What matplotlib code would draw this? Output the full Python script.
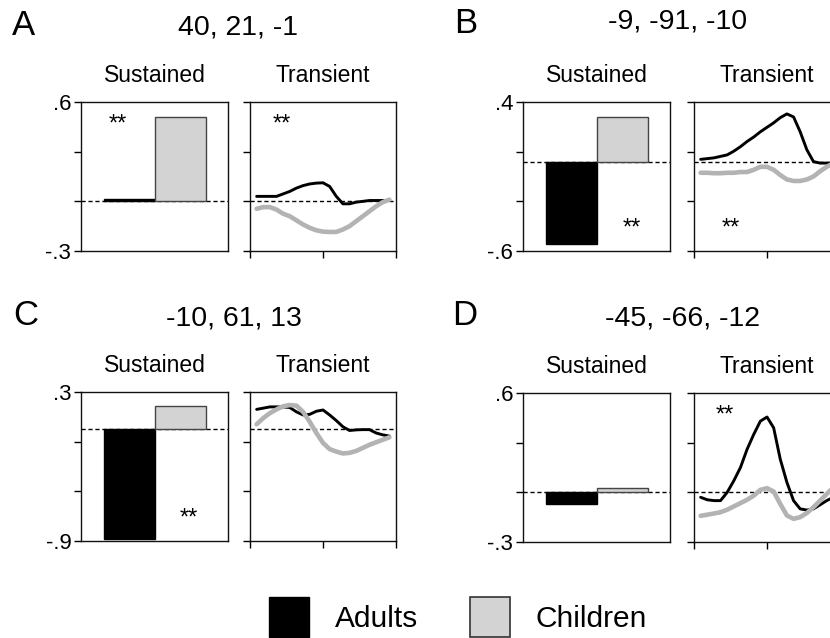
import matplotlib
matplotlib.use('Agg')
import matplotlib.pyplot as plt
from matplotlib.patches import Patch

plt.rcParams['font.family'] = ['Liberation Sans', 'DejaVu Sans']

# ---------------- data ----------------
panel_letters = ['A', 'B', 'C', 'D']
coords = ['40, 21, -1', '-9, -91, -10', '-10, 61, 13', '-45, -66, -12']
y_limits = [(-0.3, 0.6), (-0.6, 0.4), (-0.9, 0.3), (-0.3, 0.6)]
y_tick_labels = [('-.3', '.6'), ('-.6', '.4'), ('-.9', '.3'), ('-.3', '.6')]
groups = ['Adults', 'Children']
sustained_adults = [0.015, -0.55, -0.88, -0.07]
sustained_children = [0.51, 0.30, 0.19, 0.025]
time = list(range(21))

transient_adults_A = [0.03, 0.03, 0.03, 0.03, 0.045, 0.06, 0.08, 0.095, 0.105, 0.11,
                      0.112, 0.09, 0.03, -0.015, -0.015, -0.005, 0.0, 0.005, 0.005, 0.005, 0.005]
transient_children_A = [-0.045, -0.035, -0.035, -0.05, -0.075, -0.09, -0.115, -0.14, -0.16, -0.175,
                        -0.183, -0.185, -0.185, -0.17, -0.15, -0.12, -0.09, -0.06, -0.03, -0.005, 0.01]
transient_adults_B = [0.015, 0.02, 0.025, 0.035, 0.045, 0.07, 0.1, 0.135, 0.165, 0.2,
                      0.23, 0.26, 0.295, 0.32, 0.3, 0.2, 0.08, 0.0, -0.01, -0.01, -0.01]
transient_children_B = [-0.075, -0.075, -0.078, -0.078, -0.075, -0.075, -0.07, -0.07, -0.055, -0.035,
                        -0.035, -0.055, -0.09, -0.12, -0.13, -0.13, -0.12, -0.1, -0.065, -0.035, -0.01]
transient_adults_C = [0.16, 0.17, 0.18, 0.18, 0.18, 0.175, 0.14, 0.115, 0.12, 0.145,
                      0.155, 0.115, 0.07, 0.02, -0.01, -0.005, -0.003, -0.003, -0.03, -0.045, -0.055]
transient_children_C = [0.04, 0.09, 0.13, 0.16, 0.185, 0.195, 0.19, 0.14, 0.06, -0.03,
                        -0.11, -0.16, -0.18, -0.195, -0.19, -0.175, -0.15, -0.125, -0.105, -0.085, -0.065]
transient_adults_D = [-0.03, -0.045, -0.05, -0.05, 0.0, 0.07, 0.15, 0.26, 0.35, 0.43,
                      0.455, 0.39, 0.2, 0.06, -0.05, -0.1, -0.107, -0.1, -0.075, -0.05, -0.03]
transient_children_D = [-0.142, -0.135, -0.128, -0.12, -0.105, -0.085, -0.065, -0.045, -0.02, 0.015,
                        0.025, 0.005, -0.07, -0.14, -0.16, -0.15, -0.125, -0.09, -0.05, -0.01, 0.03]
transient_adults = [transient_adults_A, transient_adults_B, transient_adults_C, transient_adults_D]
transient_children = [transient_children_A, transient_children_B, transient_children_C, transient_children_D]

# significance markers: (panel, 'sust'/'trans', x_axes, y_axes)
sig_marks = [(0, 'sust', 0.25, 0.85), (0, 'trans', 0.22, 0.85),
             (1, 'sust', 0.74, 0.15), (1, 'trans', 0.25, 0.15),
             (2, 'sust', 0.73, 0.15), (3, 'trans', 0.21, 0.85)]

# ---------------- layout ----------------
W, H = 830, 638
fig = plt.figure(figsize=(W / 100, H / 100), dpi=100)

def fx(px):
    return px / W

def fy(py):
    return 1 - py / H

sust_left = [81, 523, 81, 523]
trans_left = [250, 694, 250, 694]
ax_top = [102, 102, 392, 393]
ax_h = 149
sust_w = 147
trans_w = 146

BLACK = '#000000'
BAR_GRAY = '#d3d3d3'
LINE_GRAY = '#b3b3b3'

def style_axes(ax, ylim):
    ax.set_ylim(*ylim)
    step = (ylim[1] - ylim[0]) / 3
    ax.set_yticks([ylim[0] + i * step for i in range(4)])
    for sp in ax.spines.values():
        sp.set_linewidth(1.0)
        sp.set_color('#111111')
    ax.tick_params(axis='y', direction='out', length=5, width=1, pad=2, labelsize=16)
    ax.axhline(0, color='black', lw=1.0, ls=(0, (3, 2)), zorder=1)

axes = {}
for i in range(4):
    top = ax_top[i]
    ylim = y_limits[i]
    # Sustained
    ax_s = fig.add_axes([fx(sust_left[i]), fy(top + ax_h), fx(sust_w), ax_h / H])
    style_axes(ax_s, ylim)
    ax_s.set_xlim(0, 1)
    ax_s.set_xticks([])
    lo, hi = y_tick_labels[i]
    ax_s.set_yticklabels([lo, '', '', hi])
    ax_s.bar([0.33], [sustained_adults[i]], width=0.345, color=BLACK, edgecolor=BLACK, lw=1, zorder=2)
    ax_s.bar([0.675], [sustained_children[i]], width=0.345, color=BAR_GRAY, edgecolor='#444444', lw=1, zorder=2)
    # Transient
    ax_t = fig.add_axes([fx(trans_left[i]), fy(top + ax_h), fx(trans_w), ax_h / H])
    style_axes(ax_t, ylim)
    ax_t.set_yticklabels([])
    ax_t.set_xlim(-1, 21)
    ax_t.set_xticks([-1, 10, 21])
    ax_t.set_xticklabels([])
    ax_t.tick_params(axis='x', direction='out', length=5, width=1)
    ax_t.plot(time, transient_adults[i], color=BLACK, lw=2.1, zorder=3, solid_capstyle='round')
    ax_t.plot(time, transient_children[i], color=LINE_GRAY, lw=3.3, zorder=3, solid_capstyle='round')
    axes[(i, 'sust')] = ax_s
    axes[(i, 'trans')] = ax_t

    # subtitles
    fig.text(fx(sust_left[i] + sust_w / 2), fy(top - 20), 'Sustained', ha='center', va='baseline', fontsize=16.5)
    fig.text(fx(trans_left[i] + trans_w / 2), fy(top - 20), 'Transient', ha='center', va='baseline', fontsize=16.5)

for (p, kind, xa, ya) in sig_marks:
    axes[(p, kind)].text(xa, ya, '**', transform=axes[(p, kind)].transAxes,
                         ha='center', va='center', fontsize=17)

# panel letters and coordinates
letter_pos = [(12, 35), (454, 33), (13, 325), (452, 325)]
title_pos = [(238, 35), (678, 28), (234, 325), (682, 325)]
for i in range(4):
    fig.text(fx(letter_pos[i][0]), fy(letter_pos[i][1]), panel_letters[i], ha='left', va='baseline', fontsize=25)
    fig.text(fx(title_pos[i][0]), fy(title_pos[i][1]), coords[i], ha='center', va='baseline', fontsize=20.5)

# legend
handles = [Patch(facecolor=BLACK, edgecolor=BLACK, lw=1),
           Patch(facecolor=BAR_GRAY, edgecolor='#333333', lw=1.2)]
fig.legend(handles, groups, loc='center', bbox_to_anchor=(fx(458), fy(617)), ncol=2,
           frameon=False, fontsize=21.5, handlelength=1.34, handleheight=1.68,
           handletextpad=0.85, columnspacing=1.75, borderaxespad=0, borderpad=0)

fig.savefig('out.png', dpi=100)
